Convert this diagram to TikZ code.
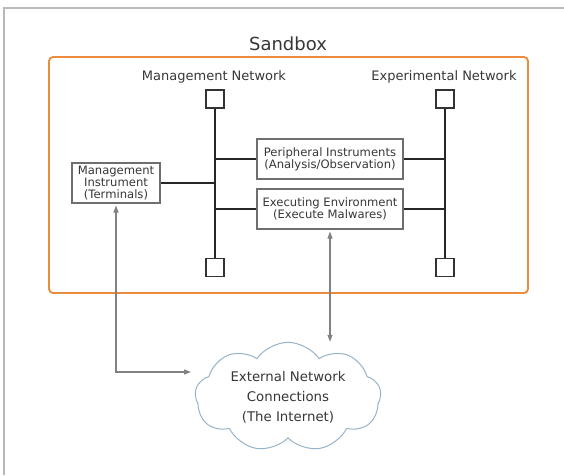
\documentclass[tikz,border=0pt]{standalone}
\usepackage{fontspec}
\setmainfont{DejaVu Sans}
\usetikzlibrary{shapes.symbols,arrows.meta}
\definecolor{frameg}{RGB}{185,185,185}
\definecolor{sbor}{RGB}{234,140,62}
\definecolor{txt}{RGB}{55,55,55}
\definecolor{boxg}{RGB}{110,110,110}
\definecolor{arrg}{RGB}{130,130,130}
\definecolor{cloudb}{RGB}{150,180,200}
\begin{document}
\begin{tikzpicture}[x=1pt,y=-1pt,
  every node/.style={text=txt},
  netsq/.style={draw=black!80,line width=1.3pt,minimum width=18pt,minimum height=18pt,inner sep=0pt},
  netline/.style={draw=black!85,line width=1.8pt},
  devbox/.style={draw=boxg,line width=1.1pt,align=center,inner sep=0pt,
     font=\fontsize{11.6}{11.7}\selectfont},
  gar/.style={draw=arrg,line width=1.1pt,shorten <=2pt,{Triangle[length=7pt,width=5pt]}-{Triangle[length=7pt,width=5pt]}},
  netlab/.style={font=\fontsize{13}{15}\selectfont}
]
\useasboundingbox (0,0) rectangle (564,475);
\fill[white] (0,0) rectangle (564,475);
\draw[frameg,line width=1.2pt] (4,475) -- (4,8) -- (564,8);

% sandbox
\node[draw=sbor,line width=1.8pt,rounded corners=4pt,minimum width=479pt,minimum height=236pt,inner sep=0pt] (sandbox) at (288.5,175) {};
\node[font=\fontsize{18}{20}\selectfont] (sblab) at (288,44) {Sandbox};

% networks
\node[netlab] (mnlab) at (214,77) {Management Network};
\node[netlab] (enlab) at (444,77) {Experimental Network};
\node[netsq] (mt) at (215,99) {};
\node[netsq] (mb) at (215,267.5) {};
\node[netsq] (et) at (445,99) {};
\node[netsq] (eb) at (445,267.5) {};
\draw[netline] (mt) -- (mb);
\draw[netline] (et) -- (eb);

% boxes
\node[devbox,minimum width=146pt,minimum height=40pt] (peri) at (330,159) {Peripheral Instruments\\(Analysis/Observation)};
\node[devbox,minimum width=146pt,minimum height=40pt] (exec) at (330,209) {Executing Environment\\(Execute Malwares)};
\node[devbox,minimum width=88pt,minimum height=40pt] (mgmt) at (116,183) {Management\\Instrument\\(Terminals)};

\draw[netline,line width=1.5pt] (mgmt.east) -- (mgmt.east -| mt);
\draw[netline,line width=1.5pt] (peri.west) -- (peri.west -| mt);
\draw[netline,line width=1.5pt] (exec.west) -- (exec.west -| mt);
\draw[netline,line width=1.5pt] (peri.east) -- (peri.east -| et);
\draw[netline,line width=1.5pt] (exec.east) -- (exec.east -| et);

% cloud
\node[cloud,draw=cloudb,line width=1pt,fill=white,cloud puffs=9,cloud puff arc=110,aspect=1.9,
  minimum width=186pt,minimum height=98pt,inner sep=0pt,align=center,
  font=\fontsize{13.3}{20}\selectfont] (cloud) at (288,397) {External Network\\Connections\\(The Internet)};
\coordinate (cin) at (191,372);

\draw[gar] (mgmt.south) |- (cin);
\draw[gar] (exec.south) -- (exec.south |- cloud.north);
\end{tikzpicture}
\end{document}
